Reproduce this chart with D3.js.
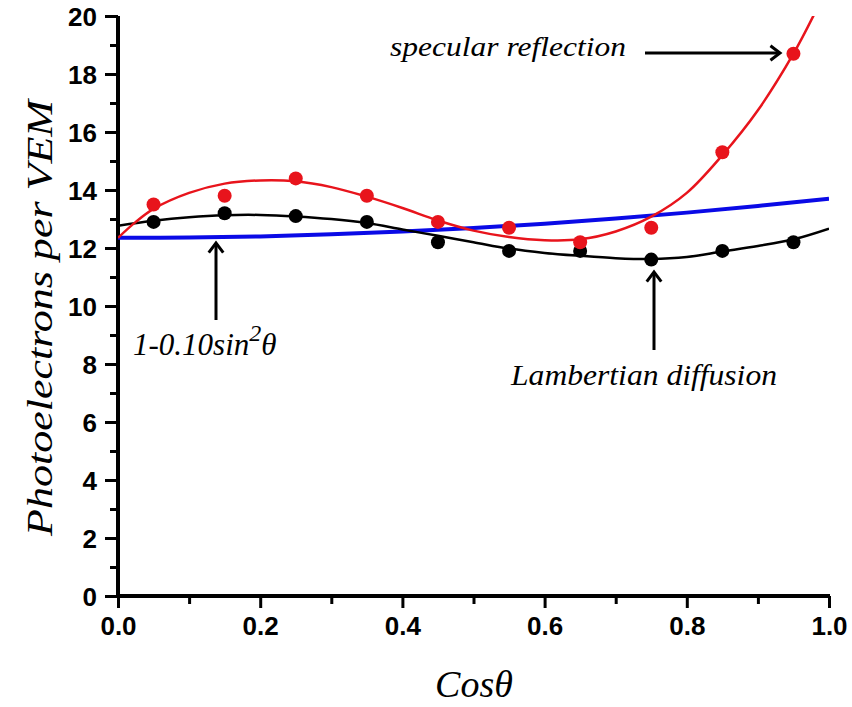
<!DOCTYPE html>
<html>
<head>
<meta charset="utf-8">
<script src="https://cdn.jsdelivr.net/npm/d3@7"></script>
<style>
  body { margin: 0; background: #fff; }
  .anno { font-family: "Liberation Serif", "Times New Roman", serif; font-style: italic; fill: #000; }
</style>
</head>
<body>
<div class="chart"></div>
<script>
// measured points (cos theta bins)
var binX = [0.05, 0.15, 0.25, 0.35, 0.45, 0.55, 0.65, 0.75, 0.85, 0.95];
var specularPts = [13.5, 13.8, 14.4, 13.8, 12.9, 12.7, 12.2, 12.7, 15.3, 18.7];
var lambertPts = [12.9, 13.2, 13.1, 12.9, 12.2, 11.9, 11.9, 11.6, 11.9, 12.2];

// fitted curves
var specFitX = [0, 0.025, 0.05, 0.1, 0.15, 0.2, 0.25, 0.3, 0.35, 0.4, 0.45, 0.5, 0.55, 0.6, 0.65, 0.7, 0.75, 0.8, 0.85, 0.9, 0.95, 0.98];
var specFitY = [12.35, 12.9, 13.35, 13.9, 14.22, 14.33, 14.3, 14.1, 13.77, 13.38, 12.95, 12.6, 12.38, 12.27, 12.3, 12.57, 13.08, 13.9, 15.2, 16.75, 18.7, 20.1];
var lambFitX = [0, 0.05, 0.1, 0.15, 0.2, 0.25, 0.3, 0.35, 0.4, 0.45, 0.5, 0.55, 0.6, 0.65, 0.7, 0.75, 0.8, 0.85, 0.9, 0.95, 1.0];
var lambFitY = [12.77, 12.94, 13.06, 13.13, 13.14, 13.09, 13.0, 12.86, 12.64, 12.42, 12.2, 11.98, 11.83, 11.73, 11.65, 11.62, 11.69, 11.88, 12.07, 12.3, 12.67];
var sinX = [0, 0.1, 0.2, 0.3, 0.4, 0.5, 0.6, 0.7, 0.8, 0.9, 1.0];
var sinY = [12.35, 12.36, 12.4, 12.47, 12.57, 12.69, 12.84, 13.02, 13.22, 13.45, 13.7];

var xMajor = [0, 0.2, 0.4, 0.6, 0.8, 1.0];
var xMinor = [0.1, 0.3, 0.5, 0.7, 0.9];
var yMajor = [0, 2, 4, 6, 8, 10, 12, 14, 16, 18, 20];
var yMinor = [1, 3, 5, 7, 9, 11, 13, 15, 17, 19];

var w = 852, h = 707;
var pLeft = 118, pRight = 829, pTop = 16, pBottom = 596;

var svg = d3.select(".chart").append("svg").attr("width", w).attr("height", h);

var xScale = d3.scaleLinear().domain([0, 1]).range([pLeft, pRight]);
var yScale = d3.scaleLinear().domain([0, 20]).range([pBottom, pTop]);

svg.append("defs").append("clipPath").attr("id", "plot")
  .append("rect").attr("x", pLeft).attr("y", pTop).attr("width", pRight - pLeft).attr("height", pBottom - pTop);

// minor ticks first
svg.append("g")
  .attr("transform", "translate(0," + pBottom + ")")
  .call(d3.axisBottom(xScale).tickValues(xMinor).tickSize(8).tickSizeOuter(0).tickFormat(""))
  .call(function (g) { g.select(".domain").remove(); g.selectAll("line").attr("stroke-width", 3); });
svg.append("g")
  .attr("transform", "translate(" + pLeft + ",0)")
  .call(d3.axisLeft(yScale).tickValues(yMinor).tickSize(8).tickSizeOuter(0).tickFormat(""))
  .call(function (g) { g.select(".domain").remove(); g.selectAll("line").attr("stroke-width", 3); });

var xAxis = d3.axisBottom(xScale).tickValues(xMajor).tickSize(12).tickSizeOuter(0).tickPadding(9).tickFormat(d3.format(".1f"));
var yAxis = d3.axisLeft(yScale).tickValues(yMajor).tickSize(13).tickSizeOuter(0).tickPadding(8).tickFormat(d3.format("d"));

function styleTicks(g) {
  g.attr("font-family", "'Liberation Sans', Arial, sans-serif")
    .attr("font-weight", "bold")
    .attr("font-size", 26);
  g.selectAll("line").attr("stroke-width", 3);
}

svg.append("g")
  .attr("id", "x-axis")
  .attr("transform", "translate(0," + pBottom + ")")
  .call(xAxis)
  .call(styleTicks)
  .call(function (g) {
    g.select(".domain").attr("stroke-width", 4).attr("d", "M" + (pLeft - 2) + ",0H" + (pRight + 1));
  });

svg.append("g")
  .attr("id", "y-axis")
  .attr("transform", "translate(" + pLeft + ",0)")
  .call(yAxis)
  .call(styleTicks)
  .call(function (g) {
    g.select(".domain").attr("stroke-width", 4).attr("d", "M0," + (pBottom + 2) + "V" + pTop);
    g.selectAll("text").attr("dy", "0.36em");
  });

// curves
var line = d3.line()
  .x(function (d) { return xScale(d[0]); })
  .y(function (d) { return yScale(d[1]); })
  .curve(d3.curveCatmullRom.alpha(0.5));

var curves = svg.append("g").attr("clip-path", "url(#plot)");

curves.append("path")
  .datum(d3.zip(sinX, sinY))
  .attr("fill", "none").attr("stroke", "#0a0ae6").attr("stroke-width", 4)
  .attr("d", line);

curves.append("path")
  .datum(d3.zip(lambFitX, lambFitY))
  .attr("fill", "none").attr("stroke", "#000").attr("stroke-width", 2.5)
  .attr("d", line);

curves.append("path")
  .datum(d3.zip(specFitX, specFitY))
  .attr("fill", "none").attr("stroke", "#e8141c").attr("stroke-width", 2.5)
  .attr("d", line);

svg.append("g").selectAll("circle")
  .data(d3.zip(binX, lambertPts))
  .enter().append("circle")
  .attr("cx", function (d) { return xScale(d[0]); })
  .attr("cy", function (d) { return yScale(d[1]); })
  .attr("r", 7)
  .attr("fill", "#000");

svg.append("g").selectAll("circle")
  .data(d3.zip(binX, specularPts))
  .enter().append("circle")
  .attr("cx", function (d) { return xScale(d[0]); })
  .attr("cy", function (d) { return yScale(d[1]); })
  .attr("r", 7)
  .attr("fill", "#e8141c");

// axis titles
svg.append("text")
  .attr("class", "anno")
  .attr("transform", "translate(52,318) rotate(-90)")
  .attr("text-anchor", "middle")
  .attr("font-size", 36)
  .attr("textLength", 436)
  .attr("lengthAdjust", "spacingAndGlyphs")
  .text("Photoelectrons per VEM");

svg.append("text")
  .attr("class", "anno")
  .attr("x", 474).attr("y", 697)
  .attr("text-anchor", "middle")
  .attr("font-size", 38)
  .text("Cosθ");

// annotations
function arrow(x1, y1, x2, y2) {
  var a = Math.atan2(y2 - y1, x2 - x1), L = 12, s = 0.65;
  svg.append("path")
    .attr("fill", "none").attr("stroke", "#000").attr("stroke-width", 3)
    .attr("d", "M" + x1 + "," + y1 + "L" + x2 + "," + y2);
  svg.append("path")
    .attr("fill", "none").attr("stroke", "#000").attr("stroke-width", 3)
    .attr("d", "M" + (x2 - L * Math.cos(a - s)) + "," + (y2 - L * Math.sin(a - s)) +
      "L" + x2 + "," + y2 +
      "L" + (x2 - L * Math.cos(a + s)) + "," + (y2 - L * Math.sin(a + s)));
}

svg.append("text").attr("class", "anno")
  .attr("x", 390).attr("y", 56).attr("font-size", 28)
  .attr("textLength", 236).attr("lengthAdjust", "spacingAndGlyphs")
  .text("specular reflection");
arrow(645, 53, 780, 53);

var sinLabel = svg.append("text").attr("class", "anno")
  .attr("x", 133).attr("y", 355).attr("font-size", 31);
sinLabel.append("tspan").text("1-0.10sin");
sinLabel.append("tspan").attr("dy", -14).attr("font-size", 24).text("2");
sinLabel.append("tspan").attr("dy", 14).text("θ");
arrow(216, 320, 216, 243);

svg.append("text").attr("class", "anno")
  .attr("x", 511).attr("y", 385).attr("font-size", 29)
  .attr("textLength", 266).attr("lengthAdjust", "spacingAndGlyphs")
  .text("Lambertian diffusion");
arrow(654, 350, 654, 272);
</script>
</body>
</html>
